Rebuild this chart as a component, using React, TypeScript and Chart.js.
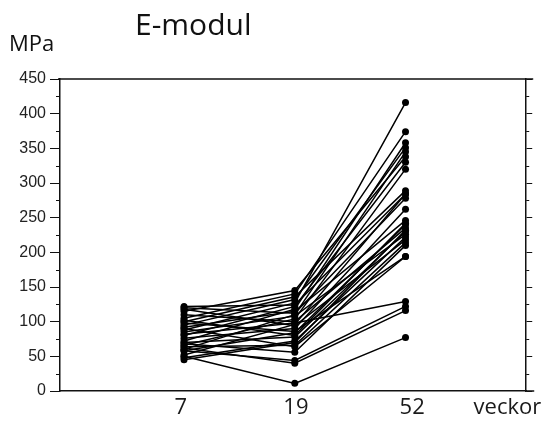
import { useEffect, useRef } from "react";
import { Chart, registerables } from "chart.js";

Chart.register(...registerables);

const titleText = "E-modul";
const unitText = "MPa";
const weeks = ["7", "19", "52"];
const axisEndLabel = "veckor";
const yMin = 0;
const yMax = 450;
const yStep = 50;

// one value per subject at week 7, 19 and 52
const week7 = [88, 105, 72, 95, 60, 115, 80, 66, 100, 52, 120, 76, 92, 58, 110, 70, 85, 48, 118, 64, 98, 82, 58, 62, 50, 122, 45, 102, 68, 90];
const week19 = [127, 140, 118, 132, 110, 145, 122, 104, 136, 96, 112, 90, 115, 84, 100, 78, 108, 72, 94, 66, 86, 98, 44, 40, 11, 124, 70, 80, 56, 64];
const week52 = [416, 374, 358, 351, 345, 338, 330, 320, 289, 284, 278, 262, 246, 240, 235, 230, 226, 222, 218, 214, 194, 129, 122, 116, 77, 284, 232, 242, 210, 194];

const framePlugin = {
  id: "frame",
  afterDraw(chart: any) {
    const { ctx, chartArea } = chart;
    const y = chart.scales.y;
    ctx.save();
    ctx.strokeStyle = "#111";
    ctx.lineWidth = 1.5;
    ctx.beginPath();
    ctx.moveTo(chartArea.left - 2, chartArea.top);
    ctx.lineTo(chartArea.right + 7, chartArea.top);
    ctx.moveTo(chartArea.right, chartArea.bottom);
    ctx.lineTo(chartArea.right + 8, chartArea.bottom);
    ctx.stroke();
    ctx.lineWidth = 1;
    ctx.beginPath();
    for (let v = yMin + yStep / 2; v < yMax; v += yStep) {
      const py = Math.round(y.getPixelForValue(v)) + 0.5;
      ctx.moveTo(chartArea.left - 4, py);
      ctx.lineTo(chartArea.left, py);
      ctx.moveTo(chartArea.right, py);
      ctx.lineTo(chartArea.right + 3, py);
    }
    ctx.stroke();
    ctx.fillStyle = "#111";
    ctx.textBaseline = "alphabetic";
    ctx.textAlign = "left";
    ctx.font = "30px 'Open Sans'";
    ctx.fillText(titleText, 135, 35);
    ctx.font = "22px 'Open Sans'";
    ctx.fillText(unitText, 9, 51);
    ctx.restore();
  },
};

export default function App() {
  const ref = useRef<HTMLCanvasElement>(null);
  useEffect(() => {
    const xIdx = weeks.map((_, i) => i);
    const datasets = week7.map((_, s) => ({
      data: [week7[s], week19[s], week52[s]].map((v, i) => ({ x: xIdx[i], y: v })),
      borderColor: "#000",
      backgroundColor: "#000",
      borderWidth: 1.5,
      pointRadius: 3.5,
      pointBorderWidth: 0,
      pointBackgroundColor: "#000",
    }));
    const xLabels = [...weeks, axisEndLabel];
    const chart = new Chart(ref.current!, {
      type: "line",
      data: { datasets },
      plugins: [framePlugin],
      options: {
        animation: false,
        responsive: false,
        devicePixelRatio: 1,
        layout: { padding: { top: 79, left: 0, right: 0, bottom: 0 } },
        plugins: { legend: { display: false }, tooltip: { enabled: false }, title: { display: false } },
        scales: {
          x: {
            type: "linear",
            min: -1.12,
            max: 3.09,
            afterBuildTicks: (scale: any) => {
              scale.ticks = [-0.03, 1.01, 2.06, 2.92].map((v) => ({ value: v }));
            },
            afterFit: (scale: any) => {
              scale.height = 30;
            },
            grid: { display: false, drawTicks: false },
            border: { display: true, color: "#111", width: 1.5 },
            ticks: {
              autoSkip: false,
              maxRotation: 0,
              padding: 4,
              color: "#1a1a1a",
              font: { family: "'Open Sans'", size: 22 },
              callback: (_v: any, i: number) => xLabels[i],
            },
          },
          y: {
            min: yMin,
            max: yMax,
            afterFit: (scale: any) => {
              scale.width = 60;
            },
            grid: { drawOnChartArea: false, tickLength: 10, color: "#111", lineWidth: 1 },
            border: { display: true, color: "#111", width: 1.5 },
            ticks: {
              stepSize: yStep,
              padding: 4,
              color: "#222",
              font: { family: "'Liberation Sans'", size: 16 },
            },
          },
          y2: {
            position: "right",
            min: yMin,
            max: yMax,
            afterFit: (scale: any) => {
              scale.width = 19;
            },
            grid: { drawOnChartArea: false, tickLength: 6, color: "#111", lineWidth: 1 },
            border: { display: true, color: "#111", width: 1.5 },
            ticks: { stepSize: yStep, display: false },
          },
        },
      },
    } as any);
    return () => chart.destroy();
  }, []);
  return (
    <div style={{ position: "fixed", left: 0, top: 0, width: 546, height: 421, background: "#fff" }}>
      <canvas ref={ref} width={546} height={421} style={{ display: "block" }} />
    </div>
  );
}
